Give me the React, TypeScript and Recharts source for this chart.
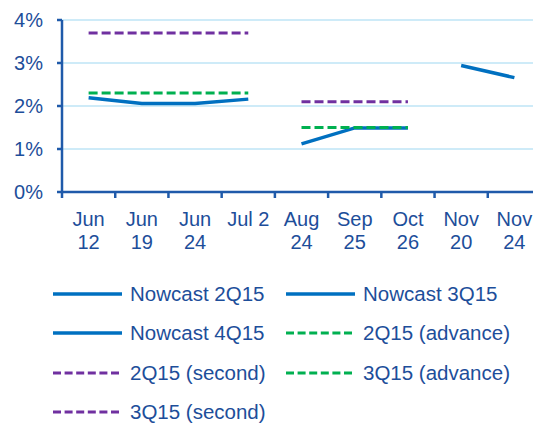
import { LineChart, Line, XAxis, YAxis, CartesianGrid } from 'recharts';

const CATEGORIES = ['Jun 12', 'Jun 19', 'Jun 24', 'Jul 2', 'Aug 24', 'Sep 25', 'Oct 26', 'Nov 20', 'Nov 24'];
const TICK_LINES = [['Jun', '12'], ['Jun', '19'], ['Jun', '24'], ['Jul 2'], ['Aug', '24'], ['Sep', '25'], ['Oct', '26'], ['Nov', '20'], ['Nov', '24']];
const Y_TICKS = [0, 1, 2, 3, 4];

const NOWCAST_2Q15 = [2.19, 2.06, 2.06, 2.16, null, null, null, null, null];
const NOWCAST_3Q15 = [null, null, null, null, 1.12, 1.49, 1.49, null, null];
const NOWCAST_4Q15 = [null, null, null, null, null, null, null, 2.94, 2.66];
const ADVANCE_2Q15 = [2.3, 2.3, 2.3, 2.3, null, null, null, null, null];
const SECOND_2Q15 = [3.7, 3.7, 3.7, 3.7, null, null, null, null, null];
const ADVANCE_3Q15 = [null, null, null, null, 1.5, 1.5, 1.5, null, null];
const SECOND_3Q15 = [null, null, null, null, 2.1, 2.1, 2.1, null, null];

const data = CATEGORIES.map((name, i) => ({
    name,
    n2: NOWCAST_2Q15[i], n3: NOWCAST_3Q15[i], n4: NOWCAST_4Q15[i],
    a2: ADVANCE_2Q15[i], s2: SECOND_2Q15[i], a3: ADVANCE_3Q15[i], s3: SECOND_3Q15[i],
}));

const BLUE = '#0070C0';
const GREEN = '#00B050';
const PURPLE = '#7030A0';
const AXIS = '#1F5AAA';
const TEXT = '#1D4E9A';
const GRID = '#BEE5F6';
const FONT = '"Liberation Sans", Arial, sans-serif';

const CHART_W = 541;
const AXIS_W = 62;
const BAND = (CHART_W - AXIS_W) / CATEGORIES.length;

// x-axis: tick marks sit between categories, labels on two lines
function CategoryTick({ x, y, index }: any) {
    const lines = TICK_LINES[index] || [];
    return (
        <g>
            <line x1={x - BAND / 2} x2={x - BAND / 2} y1={y} y2={y + 6} stroke={AXIS} strokeWidth={2.5} />
            {lines.map((t, k) => (
                <text key={k} x={x} y={y + 34 + k * 23} textAnchor="middle" fill={TEXT} fontSize={20} fontFamily={FONT}>{t}</text>
            ))}
        </g>
    );
}

const LEGEND = [
    { label: 'Nowcast 2Q15', color: BLUE, dashed: false },
    { label: 'Nowcast 3Q15', color: BLUE, dashed: false },
    { label: 'Nowcast 4Q15', color: BLUE, dashed: false },
    { label: '2Q15 (advance)', color: GREEN, dashed: true },
    { label: '2Q15 (second)', color: PURPLE, dashed: true },
    { label: '3Q15 (advance)', color: GREEN, dashed: true },
    { label: '3Q15 (second)', color: PURPLE, dashed: true },
];

export default function App() {
    return (
        <div style={{ position: 'fixed', left: 0, top: 0, width: 533, height: 423, overflow: 'hidden', background: '#fff' }}>
            <LineChart width={CHART_W} height={265} data={data} margin={{ top: 20, right: 0, left: 0, bottom: 0 }}>
                <CartesianGrid stroke={GRID} strokeWidth={1.5} vertical={false} />
                <XAxis dataKey="name" interval={0} height={73} tickSize={0} tickMargin={0} tickLine={false}
                    padding={{ left: BAND / 2, right: BAND / 2 }}
                    axisLine={{ stroke: AXIS, strokeWidth: 2.5 }} tick={<CategoryTick />} />
                <YAxis domain={[0, 4]} ticks={Y_TICKS} width={AXIS_W} tickSize={5} tickMargin={14}
                    tickFormatter={(v: number) => `${v}%`}
                    axisLine={{ stroke: AXIS, strokeWidth: 2.5 }} tickLine={{ stroke: AXIS, strokeWidth: 2.5 }}
                    tick={{ fill: TEXT, fontSize: 20, fontFamily: FONT }} />
                <Line dataKey="n2" stroke={BLUE} strokeWidth={3.5} dot={false} isAnimationActive={false} />
                <Line dataKey="n3" stroke={BLUE} strokeWidth={3.5} dot={false} isAnimationActive={false} />
                <Line dataKey="n4" stroke={BLUE} strokeWidth={3.5} dot={false} isAnimationActive={false} />
                <Line dataKey="a2" stroke={GREEN} strokeWidth={3} strokeDasharray="9 4" dot={false} isAnimationActive={false} />
                <Line dataKey="s2" stroke={PURPLE} strokeWidth={3} strokeDasharray="9 4" dot={false} isAnimationActive={false} />
                <Line dataKey="a3" stroke={GREEN} strokeWidth={3} strokeDasharray="9 4" dot={false} isAnimationActive={false} />
                <Line dataKey="s3" stroke={PURPLE} strokeWidth={3} strokeDasharray="9 4" dot={false} isAnimationActive={false} />
            </LineChart>
            <div style={{ position: 'absolute', left: 53, top: 274, width: 480, display: 'flex', flexWrap: 'wrap', fontFamily: FONT, fontSize: 20.5, color: TEXT }}>
                {LEGEND.map((l) => (
                    <div key={l.label} style={{ width: 233, height: 39.5, display: 'flex', alignItems: 'center', whiteSpace: 'nowrap' }}>
                        <svg width={70} height={10} style={{ marginRight: 7, flexShrink: 0 }}>
                            <line x1={0} x2={69} y1={5} y2={5} stroke={l.color} strokeWidth={l.dashed ? 3 : 3.5}
                                strokeDasharray={l.dashed ? '8 3.6' : undefined} />
                        </svg>
                        <span>{l.label}</span>
                    </div>
                ))}
            </div>
        </div>
    );
}
